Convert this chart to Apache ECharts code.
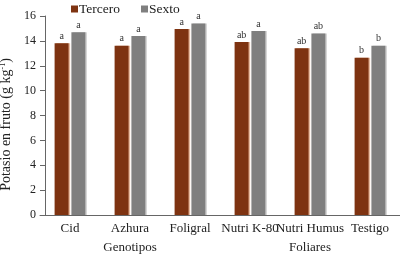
<!DOCTYPE html>
<html>
<head>
<meta charset="utf-8">
<script src="https://cdn.jsdelivr.net/npm/echarts@6/dist/echarts.min.js"></script>
<style>
  html, body { margin: 0; padding: 0; background: #fff; }
  #main { width: 400px; height: 254px; }
</style>
</head>
<body>
<div id="main"></div>
<script>
var categories = ['Cid', 'Azhura\nGenotipos', 'Foligral', 'Nutri K-80', 'Nutri Humus\nFoliares', 'Testigo'];
var tercero = [13.8, 13.6, 14.95, 13.9, 13.4, 12.65];
var sexto = [14.7, 14.4, 15.4, 14.8, 14.6, 13.6];
var terceroLetters = ['a', 'a', 'a', 'ab', 'ab', 'b'];
var sextoLetters = ['a', 'a', 'a', 'a', 'ab', 'b'];
var yTicks = [0, 2, 4, 6, 8, 10, 12, 14, 16];

var serif = '"Liberation Serif", "DejaVu Serif", serif';

function letterLabel(letters) {
    return {
        show: true,
        position: 'top',
        distance: 2,
        fontFamily: serif,
        fontSize: 10,
        color: '#333',
        formatter: function (p) { return letters[p.dataIndex]; }
    };
}

var myChart = echarts.init(document.getElementById('main'));
var option = {
    animation: false,
    textStyle: { fontFamily: serif },
    legend: {
        left: 66,
        top: 0,
        padding: [2, 5, 5, 5],
        itemWidth: 7,
        itemHeight: 7,
        itemGap: 21,
        icon: 'rect',
        textStyle: { fontFamily: serif, fontSize: 13.5, color: '#222', padding: [0, 0, 0, -4] },
        data: ['Tercero', 'Sexto']
    },
    grid: { left: 40, right: 0, top: 16, bottom: 39, outerBoundsMode: 'none' },
    xAxis: {
        type: 'category',
        data: categories,
        axisLine: { lineStyle: { color: '#666', width: 1 } },
        axisTick: { show: false },
        axisLabel: { fontFamily: serif, fontSize: 13, color: '#222', margin: 4, lineHeight: 19, interval: 0 }
    },
    yAxis: {
        type: 'value',
        min: yTicks[0],
        max: yTicks[yTicks.length - 1],
        interval: 2,
        offset: -5,
        name: 'Potasio en fruto (g kg{sup|-1})',
        nameLocation: 'middle',
        nameGap: 31,
        nameTextStyle: {
            fontFamily: serif, fontSize: 14, color: '#222',
            padding: [0, 18, 0, 0],
            rich: { sup: { fontFamily: serif, fontSize: 8, verticalAlign: 'top', padding: [0, 0, 6, 0] } }
        },
        axisLine: { show: true, lineStyle: { color: '#666', width: 1 } },
        axisTick: { show: true, length: 5, lineStyle: { color: '#666' } },
        splitLine: { show: false },
        axisLabel: { fontFamily: serif, fontSize: 12, color: '#222', margin: 9 }
    },
    series: [
        {
            name: 'Tercero',
            type: 'bar',
            data: tercero,
            barWidth: 14,
            barGap: '20%',
            itemStyle: { color: '#7e3311', shadowColor: 'rgba(225,160,120,0.7)', shadowOffsetX: 1.5 },
            label: letterLabel(terceroLetters)
        },
        {
            name: 'Sexto',
            type: 'bar',
            data: sexto,
            barWidth: 14,
            itemStyle: { color: '#7f7f7f', shadowColor: 'rgba(200,200,200,0.8)', shadowOffsetX: 1.5 },
            label: letterLabel(sextoLetters)
        }
    ]
};
myChart.setOption(option);
</script>
</body>
</html>
